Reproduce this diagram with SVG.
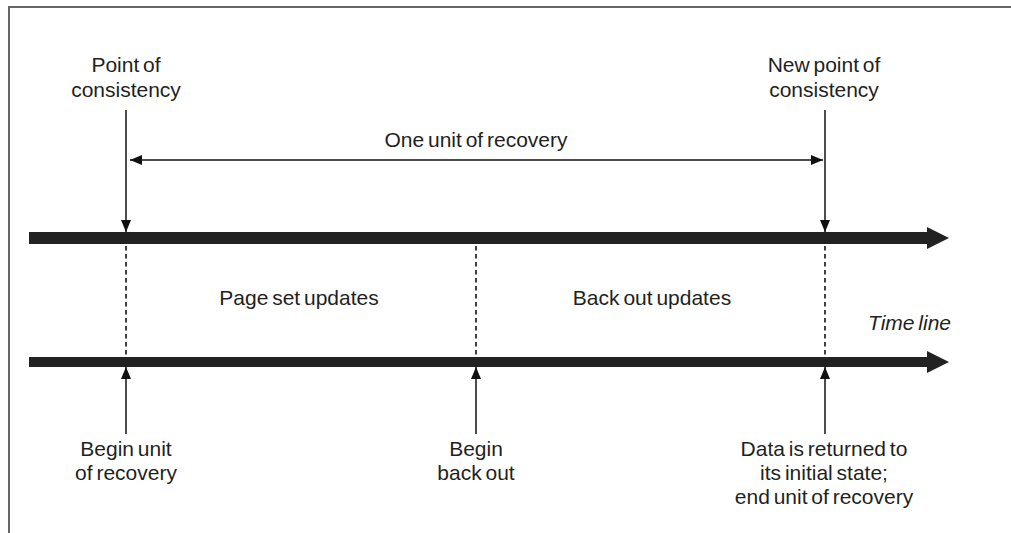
<svg xmlns="http://www.w3.org/2000/svg" width="1011" height="533" viewBox="0 0 1011 533">
<style>
text{font-family:"Liberation Sans",Arial,sans-serif;font-size:21px;fill:#231f20;text-anchor:middle;word-spacing:-2px}
.it{font-style:italic;text-anchor:start}
.thin{stroke:#111;stroke-width:1.5;fill:none}
.dash{stroke:#111;stroke-width:1.6;stroke-dasharray:4.5 3.5;fill:none}
.bar{fill:#222}
.frame{stroke:#666;stroke-width:2;fill:none}
</style>
<defs>
<marker id="ah" viewBox="0 0 12 10" refX="12" refY="5" markerWidth="12" markerHeight="10" markerUnits="userSpaceOnUse" orient="auto">
<path d="M0,0 L12,5 L0,10 Z" fill="#111"/>
</marker>
</defs>
<path class="frame" d="M1011,7 H9 V533"/>
<g id="timeline-top">
<path class="bar" d="M29,232 H927 V227 L949,238 L927,249 V244 H29 Z"/>
</g>
<g id="timeline-bottom">
<path class="bar" d="M29,357 H927 V351 L949,362 L927,373 V367 H29 Z"/>
</g>
<g id="connectors">
<line class="thin" x1="126" y1="110" x2="126" y2="232" marker-end="url(#ah)"/>
<line class="thin" x1="825" y1="110" x2="825" y2="232" marker-end="url(#ah)"/>
<line class="thin" x1="476" y1="160" x2="130" y2="160" marker-end="url(#ah)"/>
<line class="thin" x1="476" y1="160" x2="823" y2="160" marker-end="url(#ah)"/>
<line class="dash" x1="126" y1="246" x2="126" y2="357"/>
<line class="dash" x1="476" y1="246" x2="476" y2="357"/>
<line class="dash" x1="825" y1="246" x2="825" y2="357"/>
<line class="thin" x1="126" y1="434" x2="126" y2="367" marker-end="url(#ah)"/>
<line class="thin" x1="476" y1="434" x2="476" y2="367" marker-end="url(#ah)"/>
<line class="thin" x1="825" y1="434" x2="825" y2="367" marker-end="url(#ah)"/>
</g>
<g id="point-of-consistency">
<text x="126" y="72">Point of</text>
<text x="126" y="97">consistency</text>
</g>
<g id="new-point-of-consistency">
<text x="824" y="72">New point of</text>
<text x="824" y="97">consistency</text>
</g>
<g id="one-unit">
<text x="476" y="147">One unit of recovery</text>
</g>
<g id="page-set-updates">
<text x="299" y="305">Page set updates</text>
</g>
<g id="back-out-updates">
<text x="652" y="305">Back out updates</text>
</g>
<g id="time-line">
<text class="it" x="868" y="330">Time line</text>
</g>
<g id="begin-unit">
<text x="126" y="456">Begin unit</text>
<text x="126" y="480">of recovery</text>
</g>
<g id="begin-back-out">
<text x="476" y="456">Begin</text>
<text x="476" y="480">back out</text>
</g>
<g id="data-returned">
<text x="824" y="456">Data is returned to</text>
<text x="824" y="480">its initial state;</text>
<text x="824" y="504">end unit of recovery</text>
</g>
</svg>
